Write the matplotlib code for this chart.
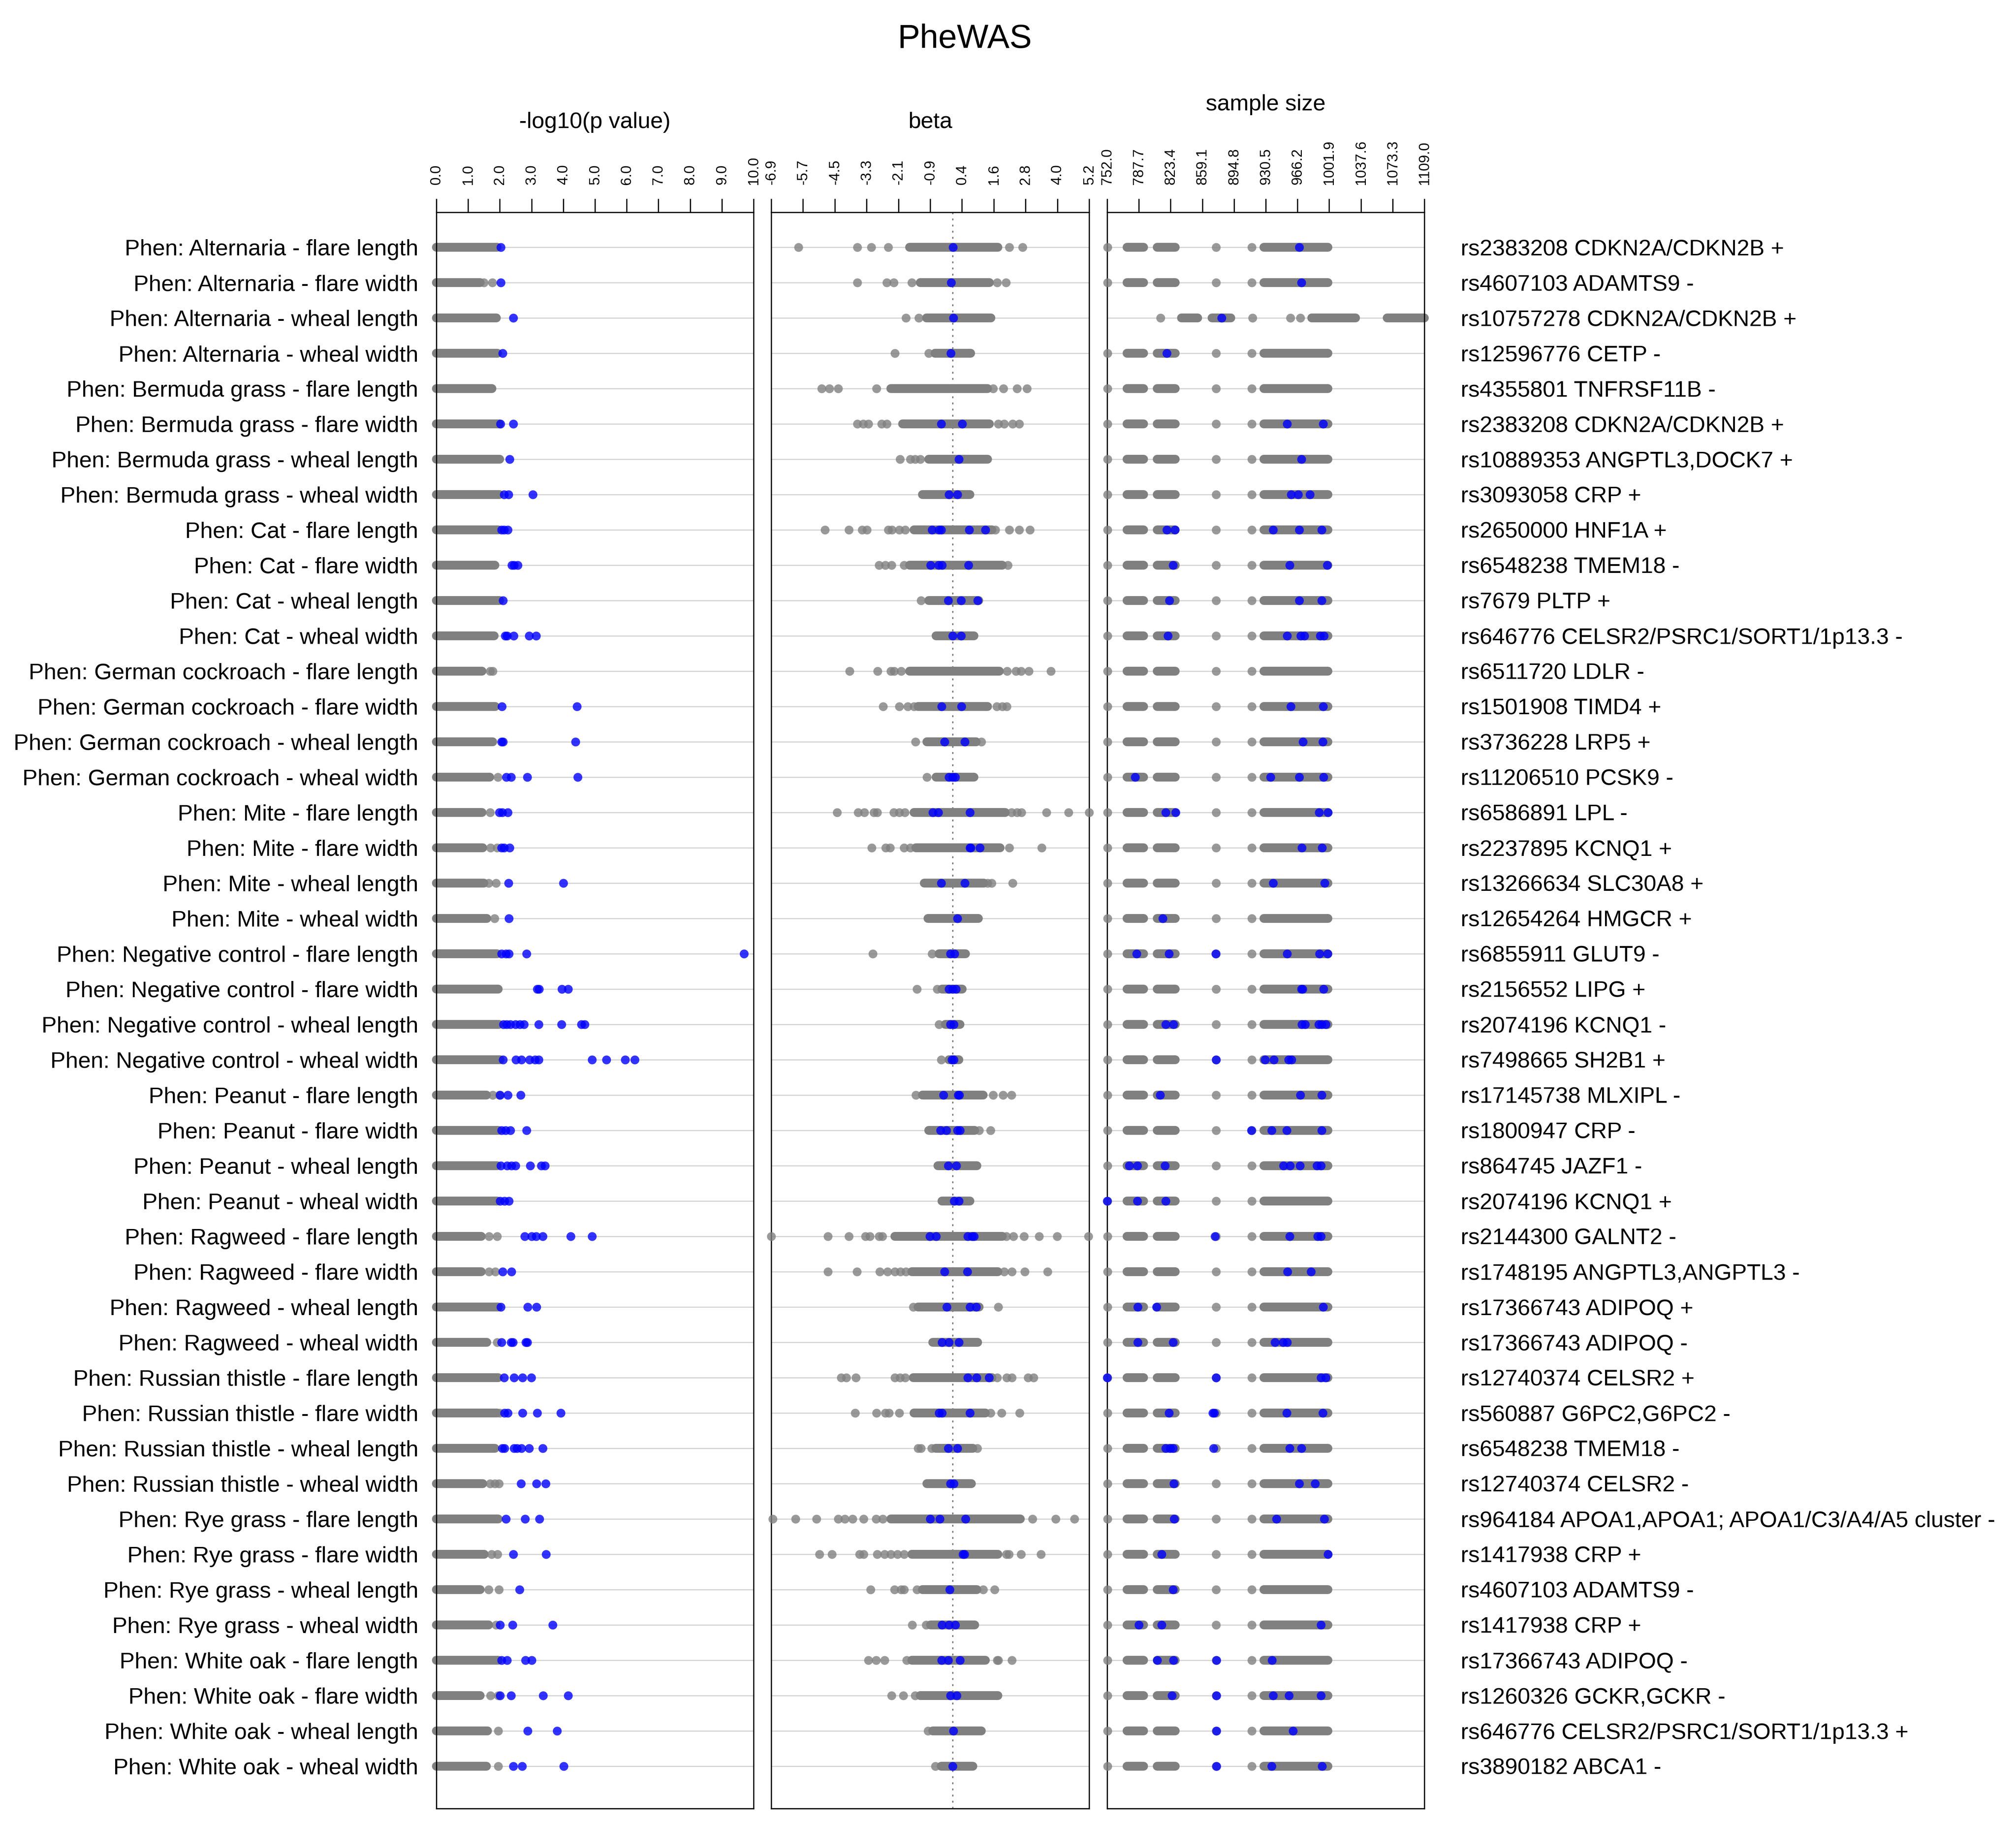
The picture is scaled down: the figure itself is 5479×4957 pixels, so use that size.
import numpy as np
import matplotlib.pyplot as plt

plt.rcParams['font.family'] = ['Liberation Sans', 'DejaVu Sans']

W, H, DPI = 5479, 4957, 300

allergens = ["Alternaria", "Bermuda grass", "Cat", "German cockroach", "Mite",
             "Negative control", "Peanut", "Ragweed", "Russian thistle",
             "Rye grass", "White oak"]
measures = ["flare length", "flare width", "wheal length", "wheal width"]
phenotypes = [f"Phen: {a} - {m}" for a in allergens for m in measures]

snp_labels = [
    "rs2383208 CDKN2A/CDKN2B +", "rs4607103 ADAMTS9 -", "rs10757278 CDKN2A/CDKN2B +",
    "rs12596776 CETP -", "rs4355801 TNFRSF11B -", "rs2383208 CDKN2A/CDKN2B +",
    "rs10889353 ANGPTL3,DOCK7 +", "rs3093058 CRP +", "rs2650000 HNF1A +",
    "rs6548238 TMEM18 -", "rs7679 PLTP +", "rs646776 CELSR2/PSRC1/SORT1/1p13.3 -",
    "rs6511720 LDLR -", "rs1501908 TIMD4 +", "rs3736228 LRP5 +", "rs11206510 PCSK9 -",
    "rs6586891 LPL -", "rs2237895 KCNQ1 +", "rs13266634 SLC30A8 +", "rs12654264 HMGCR +",
    "rs6855911 GLUT9 -", "rs2156552 LIPG +", "rs2074196 KCNQ1 -", "rs7498665 SH2B1 +",
    "rs17145738 MLXIPL -", "rs1800947 CRP -", "rs864745 JAZF1 -", "rs2074196 KCNQ1 +",
    "rs2144300 GALNT2 -", "rs1748195 ANGPTL3,ANGPTL3 -", "rs17366743 ADIPOQ +",
    "rs17366743 ADIPOQ -", "rs12740374 CELSR2 +", "rs560887 G6PC2,G6PC2 -",
    "rs6548238 TMEM18 -", "rs12740374 CELSR2 -",
    "rs964184 APOA1,APOA1; APOA1/C3/A4/A5 cluster -", "rs1417938 CRP +",
    "rs4607103 ADAMTS9 -", "rs1417938 CRP +", "rs17366743 ADIPOQ -", "rs1260326 GCKR,GCKR -",
    "rs646776 CELSR2/PSRC1/SORT1/1p13.3 +", "rs3890182 ABCA1 -",
]

# ---- -log10(p value): grey run from 0 to end, a few loose grey dots, blue = hits
pval_run_end = [1.91, 1.38, 1.89, 1.93, 1.75, 1.98, 1.99, 1.98, 1.95, 1.85, 1.99,
                1.82, 1.44, 1.86, 1.78, 1.68, 1.44, 1.46, 1.50, 1.59, 1.91, 1.95,
                1.97, 2.01, 1.58, 1.95, 1.91, 1.91, 1.42, 1.42, 1.95, 1.59, 1.95,
                1.91, 1.85, 1.46, 1.95, 1.51, 1.38, 1.65, 1.95, 1.38, 1.61, 1.58]
pval_grey = [[], [1.5, 1.76], [], [], [], [], [], [], [], [], [],
             [], [1.69, 1.78], [], [], [1.94], [1.69], [1.71, 1.91], [1.65, 1.88], [1.83], [], [],
             [], [], [1.78, 1.98], [], [], [], [1.66, 1.91], [1.66, 1.86], [], [1.91], [],
             [2.0], [], [1.69, 1.85, 1.97], [], [1.74, 1.93], [1.65, 1.97], [1.88], [],
             [1.71, 1.95], [1.95], [1.95]]
pval_blue = [
    [2.03], [2.03], [2.42], [2.09], [], [2.02, 2.42], [2.31], [2.13, 2.27, 3.04],
    [2.05, 2.14, 2.25], [2.38, 2.45, 2.56], [2.10], [2.17, 2.23, 2.44, 2.92, 3.14],
    [], [2.06, 4.43], [2.05, 2.10, 4.39], [2.20, 2.36, 2.86, 4.45], [1.98, 2.08, 2.25],
    [2.05, 2.14, 2.31], [2.27, 4.00], [2.29], [2.05, 2.19, 2.29, 2.84, 9.70],
    [3.18, 3.24, 3.96, 4.15],
    [2.11, 2.21, 2.33, 2.49, 2.63, 2.76, 3.22, 3.95, 4.57, 4.67],
    [2.10, 2.51, 2.68, 2.93, 3.11, 3.22, 4.91, 5.36, 5.95, 6.25],
    [2.01, 2.25, 2.66], [2.05, 2.18, 2.33, 2.84], [2.03, 2.23, 2.37, 2.49, 2.96, 3.31, 3.42],
    [2.01, 2.15, 2.29], [2.78, 3.01, 3.14, 3.35, 4.23, 4.91], [2.09, 2.37],
    [2.03, 2.88, 3.15], [2.05, 2.35, 2.41, 2.82, 2.86], [2.14, 2.45, 2.71, 2.99],
    [2.15, 2.25, 2.71, 3.18, 3.92], [2.08, 2.15, 2.45, 2.54, 2.68, 2.92, 3.35],
    [2.67, 3.16, 3.44], [2.19, 2.80, 3.25], [2.43, 3.46], [2.62], [2.01, 2.40, 3.67],
    [2.05, 2.23, 2.81, 3.00], [2.01, 2.35, 3.36, 4.15], [2.88, 3.81], [2.43, 2.70, 4.01],
]

# ---- beta: dense grey run (lo, hi), loose grey dots, blue hits
beta_run = [(-1.63, 1.73), (-1.23, 1.41), (-0.99, 1.46), (-0.67, 0.69), (-2.35, 1.33),
            (-1.90, 1.41), (-0.91, 1.33), (-1.15, 0.66), (-1.47, 1.50), (-1.63, 1.90),
            (-0.91, 1.00), (-0.62, 0.82), (-1.63, 1.78), (-1.31, 1.33), (-0.98, 0.90),
            (-0.62, 0.82), (-1.47, 2.00), (-1.39, 1.81), (-1.07, 1.20), (-0.94, 0.98),
            (-0.51, 0.50), (-0.40, 0.37), (-0.27, 0.29), (-0.14, 0.24), (-1.15, 1.17),
            (-0.91, 0.85), (-0.56, 0.93), (-0.40, 0.66), (-2.19, 1.89), (-1.55, 1.73),
            (-1.31, 1.01), (-0.75, 0.96), (-1.50, 1.50), (-1.47, 1.25), (-0.64, 0.77),
            (-0.98, 0.72), (-2.35, 2.58), (-1.55, 1.73), (-1.15, 0.93), (-0.83, 0.85),
            (-1.55, 1.25), (-1.23, 1.73), (-0.75, 1.09), (-0.43, 0.77)]
beta_grey = [
    [-5.87, -3.62, -3.09, -2.45, 2.16, 2.66],
    [-3.62, -2.5, -2.24, -1.55, 1.70, 2.03],
    [-1.78, -1.28],
    [-2.19, -0.9],
    [-4.98, -4.69, -4.35, -2.9, 1.54, 1.94, 2.45, 2.83],
    [-3.62, -3.4, -3.2, -2.7, -2.5, 1.74, 1.97, 2.29, 2.54],
    [-2.0, -1.6, -1.43, -1.23],
    [],
    [-4.85, -3.94, -3.44, -3.26, -2.45, -2.3, -2.03, -1.8, 1.63, 2.16, 2.54, 2.94],
    [-2.8, -2.56, -2.32, -1.84, 2.1],
    [-1.2],
    [],
    [-3.92, -2.85, -2.35, -2.22, -1.95, 2.08, 2.42, 2.61, 2.91, 3.74],
    [-2.64, -2.02, -1.71, -1.47, 1.68, 1.89, 2.06],
    [-1.41, 1.09],
    [-0.98],
    [-4.4, -3.6, -3.36, -2.99, -2.86, -2.24, -2.03, -1.82, 2.24, 2.45, 2.62, 3.57, 4.42, 5.2],
    [-3.07, -2.54, -2.37, -1.84, -1.6, 2.16, 3.39],
    [1.33, 1.49, 2.29],
    [],
    [-3.04, -0.78],
    [-1.36, -0.59],
    [-0.51],
    [-0.43],
    [-1.39, 1.54, 1.92, 2.24],
    [1.01, 1.44],
    [],
    [],
    [-6.9, -4.75, -3.95, -3.31, -3.15, -2.8, -2.67, 2.05, 2.32, 2.72, 3.3, 3.98, 5.17],
    [-4.74, -3.63, -2.77, -2.48, -2.19, -1.98, -1.78, 1.97, 2.26, 2.75, 3.62],
    [-1.49, 1.74],
    [],
    [-4.24, -4.05, -3.68, -2.19, -2.0, -1.8, 1.7, 2.06, 2.26, 2.88, 3.09],
    [-3.7, -2.9, -2.56, -2.42, -2.03, 1.44, 1.87, 2.56],
    [-1.31, -1.2, -0.8, 0.94],
    [],
    [-6.85, -5.97, -5.18, -4.35, -4.1, -3.81, -3.39, -2.91, -2.66, 3.04, 3.92, 4.64],
    [-5.06, -4.59, -3.54, -3.38, -2.86, -2.59, -2.35, -2.1, -1.85, 2.05, 2.14, 2.61, 3.36],
    [-3.12, -2.21, -1.95, -1.84, -1.36, 1.17, 1.6],
    [-1.54, -1.01],
    [-3.2, -2.91, -2.58, -1.74, 1.7, 1.74, 2.26],
    [-2.32, -1.87, -1.42],
    [-0.94],
    [-0.66],
]
beta_blue = [
    [0.02], [-0.05], [0.03], [-0.06], [], [-0.43, 0.37], [0.24], [-0.14, 0.18],
    [-0.78, -0.51, -0.43, 0.64, 1.25], [-0.83, -0.53, -0.4, 0.61], [-0.16, 0.32, 0.96],
    [0.0, 0.32], [], [-0.42, 0.34], [-0.3, 0.46], [-0.14, 0.0, 0.1], [-0.75, -0.54, 0.66],
    [0.66, 0.69, 1.04], [-0.43, 0.46], [0.18], [-0.08, 0.08], [-0.14, 0.0, 0.13],
    [-0.08, 0.05], [-0.02, 0.05], [-0.35, 0.21, 0.26], [-0.46, -0.24, 0.18, 0.29],
    [-0.16, 0.14], [0.06, 0.24], [-0.86, -0.62, 0.58, 0.74, 0.82], [-0.3, 0.56],
    [-0.22, 0.66, 0.9], [-0.4, -0.14, 0.24], [0.58, 0.91, 1.39], [-0.51, -0.4, 0.66],
    [-0.16, 0.19], [-0.08, 0.05], [-0.85, -0.48, 0.5], [0.4, 0.45], [-0.11],
    [-0.4, -0.13, 0.1], [-0.42, -0.16, 0.29], [-0.08, 0.16], [0.03], [0.0],
]

# ---- sample size: most rows share the same grey layout, row 3 differs
n_run_common = [(774.5, 792.8), (808.3, 828.5), (928.4, 1000.6)]
n_grey_common = [752.5, 914.8, 874.4]
n_run_row3 = [(835.5, 853.8), (870.2, 891.3), (982.3, 1031.5), (1067.2, 1109.0)]
n_grey_row3 = [812.0, 915.7, 958.4, 969.6]
n_blue = [
    [968], [970.6], [881], [819], [], [954.6, 995], [970.6], [959, 967, 980],
    [819, 828, 938.7, 968, 993.6], [826, 957.5, 999.7], [822, 968, 993.6],
    [820.5, 954.6, 970, 974, 991.7, 996], [], [958.5, 995], [972.5, 994.5],
    [783.4, 935.9, 968, 995.4], [817.7, 829, 990.7, 1000.6], [971, 994], [938.7, 996.8],
    [814.4], [785.3, 821.4, 874, 954.6, 991, 1000], [970.6, 972, 995.4],
    [818, 826.6, 971, 975, 990, 993.6, 998], [874.4, 929.8, 939.6, 956, 959.3],
    [811.6, 969.6, 993.6], [914.3, 937.3, 954.2, 993.6],
    [776.9, 785.8, 817.2, 950.4, 958, 969, 988, 992.6], [752, 785.8, 818],
    [873.5, 957.5, 989, 992.6], [955, 981.4], [786.2, 807.3, 995],
    [786.2, 826, 941, 950, 954.6], [752, 874.4, 992.6, 998],
    [821.4, 871, 872.5, 954.2, 994.5], [817.7, 822.9, 826, 871.6, 957.5, 970.6],
    [827, 968, 986], [827.5, 942.4, 996.4], [813.4, 1000.6], [826],
    [787.6, 813.4, 992.6], [808.3, 826.6, 875, 937.7], [825, 875, 938.7, 956.5, 992.6],
    [875, 961], [875, 937.3, 994],
]

nrow = len(phenotypes)
pval_runs = [[(0.0, e)] for e in pval_run_end]
beta_runs = [[r] for r in beta_run]
n_runs = [n_run_row3 if i == 2 else n_run_common for i in range(nrow)]
n_grey = [n_grey_row3 if i == 2 else n_grey_common for i in range(nrow)]

GREY = '#808080'
DOT_PT = 24 * 72 / DPI        # dot diameter in points
S = DOT_PT ** 2


def px_axes(fig, x0, x1, y0, y1):
    return fig.add_axes([x0 / W, 1 - y1 / H, (x1 - x0) / W, (y1 - y0) / H])


def fmt1(t):
    # round half away from zero, like the original labels (-0.85 -> -0.9)
    v = np.sign(t) * np.floor(abs(t) * 10 + 0.5 + 1e-9) / 10
    return f"{v:.1f}"


def draw_panel(ax, runs, greys, blues, lo, hi):
    for i in range(nrow):
        ax.axhline(i, color='#d4d4d4', lw=0.75, zorder=0)
        for a, b in runs[i]:
            ax.plot([a, b], [i, i], color=GREY, lw=DOT_PT, solid_capstyle='round',
                    zorder=2, clip_on=False)
        if greys[i]:
            ax.scatter(greys[i], [i] * len(greys[i]), s=S, color=GREY, alpha=0.8,
                       linewidths=0, zorder=3, clip_on=False)
        if blues[i]:
            ax.scatter(blues[i], [i] * len(blues[i]), s=S, color='blue', alpha=0.8,
                       linewidths=0, zorder=4, clip_on=False)
    ax.set_xlim(lo, hi)
    ax.set_ylim(nrow - 1 + 1.2, -0.99)
    ax.xaxis.tick_top()
    ticks = np.linspace(lo, hi, 11)
    ax.set_xticks(ticks, [fmt1(t) for t in ticks])
    ax.tick_params(axis='x', direction='out', length=8.9, width=0.8, pad=9,
                   labelsize=9.5, labelrotation=90)
    for sp in ax.spines.values():
        sp.set_linewidth(0.8)


fig = plt.figure(figsize=(W / DPI, H / DPI), dpi=DPI)

ax1 = px_axes(fig, 1186, 2048, 577, 4915)
ax2 = px_axes(fig, 2096, 2960, 577, 4915)
ax3 = px_axes(fig, 3009, 3871, 577, 4915)

draw_panel(ax1, pval_runs, pval_grey, pval_blue, 0.0, 10.0)
draw_panel(ax2, beta_runs, beta_grey, beta_blue, -6.9, 5.2)
draw_panel(ax3, n_runs, n_grey, n_blue, 752.0, 1109.0)

ax2.axvline(0, color='#707070', lw=0.8, ls=(0, (1.5, 3.5)), zorder=1)

ax1.set_yticks(range(nrow), phenotypes)
ax1.tick_params(axis='y', length=0, pad=11.8, labelsize=14.8)
ax2.set_yticks([])
ax3.set_yticks(range(nrow), snp_labels)
ax3.yaxis.tick_right()
ax3.tick_params(axis='y', length=0, pad=23.8, labelsize=14.8)

fig.text(2622 / W, 1 - 130 / H, "PheWAS", fontsize=21.8, ha='center', va='baseline')
fig.text(1617 / W, 1 - 348 / H, "-log10(p value)", fontsize=14.8, ha='center', va='baseline')
fig.text(2528 / W, 1 - 348 / H, "beta", fontsize=14.8, ha='center', va='baseline')
fig.text(3440 / W, 1 - 300 / H, "sample size", fontsize=14.8, ha='center', va='baseline')

fig.savefig("out.png", dpi=DPI)
